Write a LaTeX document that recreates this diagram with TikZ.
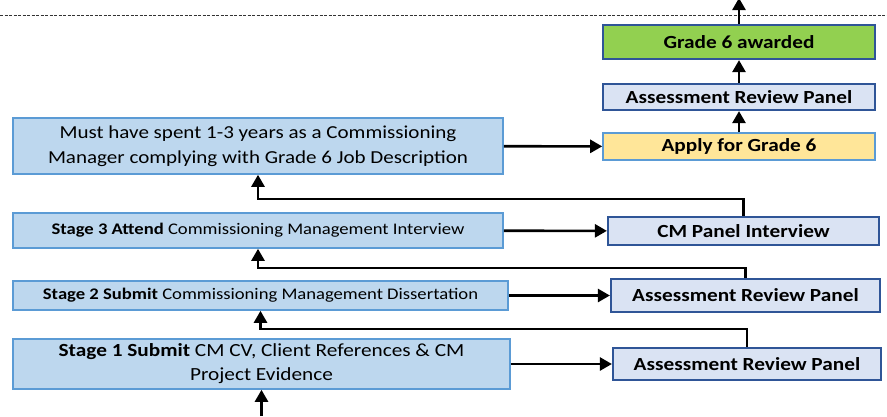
\documentclass[tikz,border=0pt]{standalone}
\usepackage{fontspec}
\setmainfont{Carlito}[FakeStretch=1.15]
\usetikzlibrary{arrows.meta}
\definecolor{stagefill}{HTML}{BDD7EE}
\definecolor{stageline}{HTML}{5B9BD5}
\definecolor{panelfill}{HTML}{DAE3F3}
\definecolor{panelline}{HTML}{2F5597}
\definecolor{awardfill}{HTML}{92D050}
\definecolor{applyfill}{HTML}{FFE699}

\begin{document}
\begin{tikzpicture}[x=1pt,y=-1pt,
	stagebox/.style={draw=stageline, fill=stagefill, line width=1.6pt, inner sep=0pt, align=center},
	panelbox/.style={draw=panelline, fill=panelfill, line width=2.2pt, inner sep=0pt, font=\fontsize{18.5}{20}\selectfont\bfseries},
	arr/.style={line width=2.6pt, -{Triangle[width=13pt,length=12pt]}}]
	\useasboundingbox (0,0) rectangle (887,416);
	%%%separator
	\draw[line width=0.8pt, dash pattern=on 3pt off 1.5pt, black!80] (0,15) -- (887,15);
	%%%nodes
	%left column
	\node[stagebox, minimum width=490, minimum height=56, font=\fontsize{18.3}{25}\selectfont] at (258,146) (must){Must have spent 1-3 years as a Commissioning\\Manager complying with Grade 6 Job Description};
	\node[stagebox, minimum width=490, minimum height=35, font=\fontsize{16.2}{18}\selectfont] at (258,230.5) (stage3){\textbf{Stage 3 Attend} Commissioning Management Interview};
	\node[stagebox, minimum width=495, minimum height=29, font=\fontsize{16.2}{18}\selectfont] at (260.5,295.5) (stage2){\textbf{Stage 2 Submit} Commissioning Management Dissertation};
	\node[stagebox, minimum width=497, minimum height=50, font=\fontsize{18.5}{24}\selectfont] at (261.5,364) (stage1){\textbf{Stage 1 Submit} CM CV, Client References \& CM\\Project Evidence};
	%right column
	\node[panelbox, fill=awardfill, minimum width=272, minimum height=34] at (739,42) (award){Grade 6 awarded};
	\node[panelbox, minimum width=272, minimum height=26] at (739,97) (review3){Assessment Review Panel};
	\node[panelbox, draw=stageline, fill=applyfill, line width=1.6pt, minimum width=272, minimum height=27] at (739,146.5) (apply){Apply for Grade 6};
	\node[panelbox, minimum width=271, minimum height=28] at (743.5,231) (interview){CM Panel Interview};
	\node[panelbox, minimum width=269, minimum height=33] at (745.5,295.5) (review2){Assessment Review Panel};
	\node[panelbox, minimum width=268, minimum height=32] at (747,364) (review1){Assessment Review Panel};
	%loose ends
	\coordinate (top) at (739,-2);
	\coordinate (start) at (261.5,416);
	%%%links
	%across
	\draw[arr] (must) -- (apply);
	\draw[arr] (stage3) -- (interview);
	\draw[arr] (stage2) -- (review2);
	\draw[arr] (stage1) -- (review1);
	%up the right side
	\draw[arr] (apply) -- (review3);
	\draw[arr] (review3) -- (award);
	\draw[arr] (award) -- (top);
	%back to the next stage
	\draw[arr] (start) -- (stage1);
	\draw[arr] (interview.north) -- ++(0,-17) -| (must.south);
	\draw[arr] (review2.north) -- ++(0,-10) -| (stage3.south);
	\draw[arr] (review1.north) -- ++(0,-18) -| (stage2.south);
\end{tikzpicture}
\end{document}
